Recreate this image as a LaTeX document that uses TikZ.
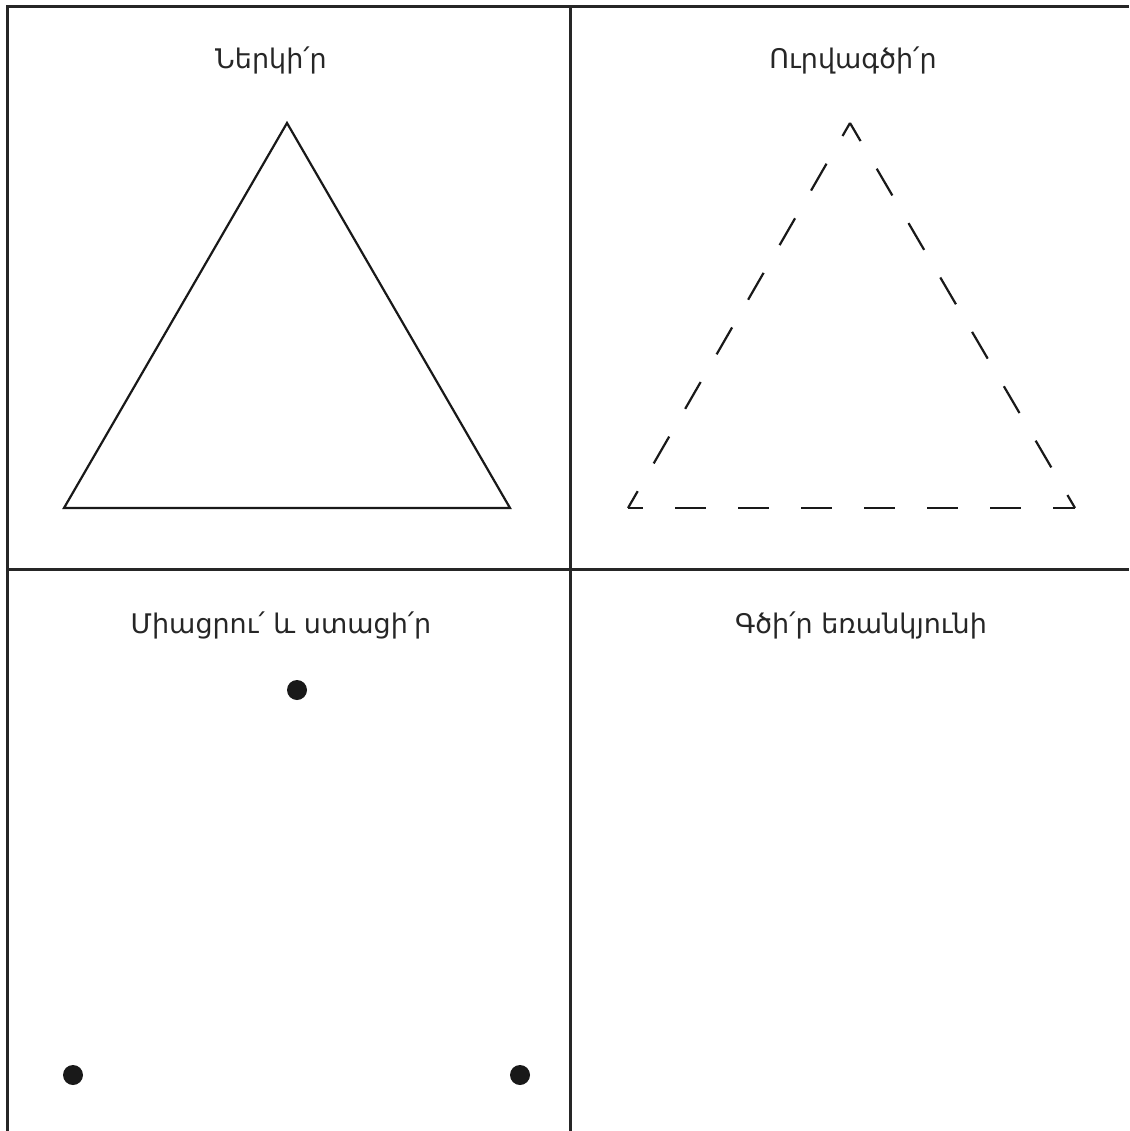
\documentclass[tikz,border=0pt]{standalone}
\usepackage{fontspec}
\setmainfont{DejaVu Sans}
\usetikzlibrary{calc}

\begin{document}
\begin{tikzpicture}[x=1pt, y=-1pt,
    frame/.style={line width=3pt, color=black!85},
    side/.style={line width=2.2pt, color=black!90},
    dashside/.style={side, dash pattern=on 31pt off 32pt, dash phase=16pt},
    task/.style={font=\fontsize{27}{31}\selectfont, text=black!85, anchor=base}]
    \useasboundingbox (0,0) rectangle (1129,1131);
    % frame and dividers
    \coordinate (TL) at (7,7);
    \coordinate (TR) at (1129,7);
    \coordinate (BL) at (7,1131);
    \coordinate (MT) at (570,7);
    \coordinate (MB) at (570,1131);
    \coordinate (ML) at (7,569);
    \coordinate (MR) at (1129,569);
    \draw[frame] (BL) -- (TL) -- (TR);
    \draw[frame] (MT) -- (MB);
    \draw[frame] (ML) -- (MR);
    % labels
    \node[task] (paint) at (271,69) {Ներկի՛ր};
    \node[task] (trace) at (853,69) {Ուրվագծի՛ր};
    \node[task] (join) at (281,633) {Միացրու՛ և ստացի՛ր};
    \node[task] (drawit) at (861,633) {Գծի՛ր եռանկյունի};
    % solid triangle
    \coordinate (A) at (287,123);
    \coordinate (B) at (64,508);
    \coordinate (C) at (510,508);
    \draw[side, line join=miter] (A) -- (B) -- (C) -- cycle;
    % dashed triangle
    \coordinate (A') at (850,123);
    \coordinate (B') at (628,508);
    \coordinate (C') at (1075,508);
    \draw[dashside] (A') -- (B');
    \draw[dashside] (B') -- (C');
    \draw[dashside] (C') -- (A');
    % dots to join
    \coordinate (P) at (297,690);
    \coordinate (Q) at (73,1075);
    \coordinate (R) at (520,1075);
    \foreach \p in {P,Q,R} {\fill[black!90] (\p) circle (10pt);}
\end{tikzpicture}
\end{document}
